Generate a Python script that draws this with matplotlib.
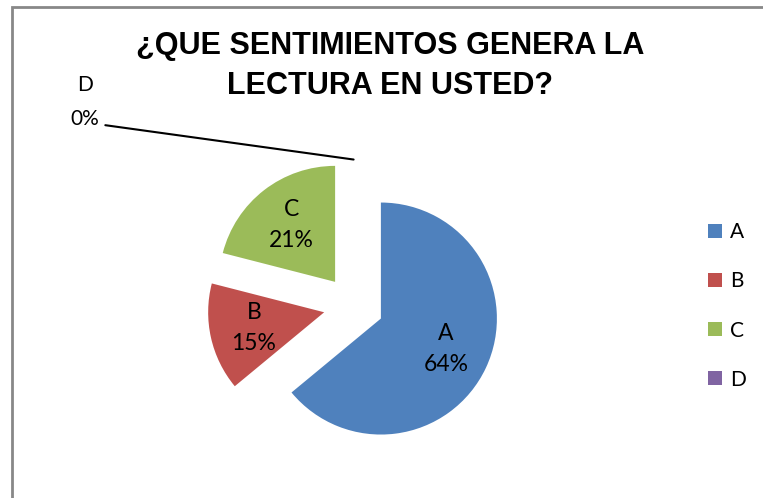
import matplotlib
matplotlib.use("Agg")
import matplotlib.pyplot as plt
from matplotlib.patches import Rectangle

categories = ["A", "B", "C", "D"]
percentages = [64, 15, 21, 0]
colors = ["#4F81BD", "#C0504D", "#9BBB59", "#8064A2"]
title = "¿QUE SENTIMIENTOS GENERA LA\nLECTURA EN USTED?"

W, H = 763, 498
fig = plt.figure(figsize=(W / 100, H / 100), dpi=100)

# outer chart frame (runs past the right and bottom edges like the screenshot)
fig.add_artist(Rectangle((11.5 / W, -0.05), 1.2, 1 - 7.5 / H + 0.05,
                         transform=fig.transFigure, fill=False,
                         edgecolor="#888888", linewidth=2))

fig.text(390 / W, 1 - 94 / H, title, ha="center", va="baseline",
         fontsize=22, fontweight="bold", family="Liberation Sans",
         linespacing=1.42, multialignment="center")

# square axes: 1 data unit = 116 px, pie centre at (353.6, 305.7)
side = 300
px = 116
cx, cy = 353.6, H - 305.7
ax = fig.add_axes([(cx - side / 2) / W, (cy - side / 2) / H, side / W, side / H])
ax.axis("off")

labels = [f"{c}\n{p}%" for c, p in zip(categories, percentages)]
wedges, texts = ax.pie(percentages, colors=colors, labels=labels,
                       startangle=90, counterclock=False,
                       explode=[0.26] * len(percentages), labeldistance=0.62,
                       wedgeprops=dict(linewidth=0),
                       textprops=dict(fontsize=16.5, family="Lato", color="black"))
lim = side / 2 / px
ax.set_xlim(-lim, lim)
ax.set_ylim(-lim, lim)
ax.set_aspect("equal")

for t in texts:
    t.set_ha("center")
    t.set_va("center")
    t.set_multialignment("center")
    t.set_linespacing(1.6)

# zero slice: label pulled out with a leader line
zero_idx = percentages.index(0)
texts[zero_idx].set_visible(False)
wd = wedges[zero_idx]
ax.annotate(labels[zero_idx], xy=(wd.center[0], wd.center[1] + wd.r),
            xytext=((99 - 353.6) / px, (305.7 - 129) / px),
            ha="right", va="bottom", fontsize=15, family="Lato",
            multialignment="center", linespacing=1.9, annotation_clip=False,
            arrowprops=dict(arrowstyle="-", color="black", lw=1.5,
                            shrinkA=0, shrinkB=0, relpos=(1.22, 0.07)))

fig.legend(wedges, categories, loc="center left",
           bbox_to_anchor=(708 / W, 1 - 306 / H), frameon=False,
           prop=dict(family="Lato", size=15), handlelength=0.65,
           handleheight=0.65, handletextpad=0.4, labelspacing=1.4,
           borderpad=0, borderaxespad=0)

fig.savefig("out.png", dpi=100)
